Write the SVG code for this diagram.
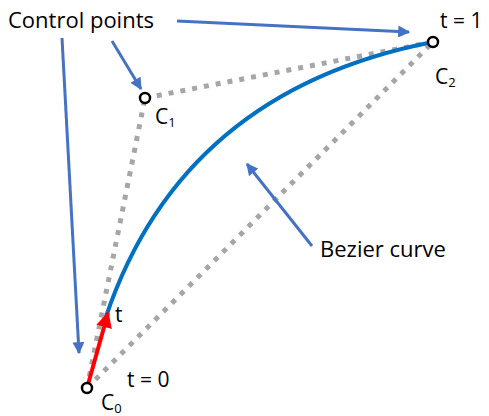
<svg xmlns="http://www.w3.org/2000/svg" width="489" height="416" viewBox="0 0 489 416">
<defs>
<marker id="ab" viewBox="0 0 10 10" refX="9" refY="5" markerWidth="4" markerHeight="4" orient="auto" markerUnits="strokeWidth"><path d="M0,0 L10,5 L0,10 z" fill="#4472C4"/></marker>
<marker id="ar" viewBox="0 0 10 10" refX="9" refY="5" markerWidth="4" markerHeight="4" orient="auto" markerUnits="strokeWidth"><path d="M0,0 L10,5 L0,10 z" fill="#FF0000"/></marker>
</defs>
<style>
.dot{stroke:#A6A6A6;stroke-width:5;stroke-dasharray:5 7;fill:none}
.curve{stroke:#0070C0;stroke-width:4;fill:none}
.ptr{stroke:#4472C4;stroke-width:3;fill:none;marker-end:url(#ab)}
.pt{fill:#fff;stroke:#000;stroke-width:2.5}
text{font-family:"Open Sans","Liberation Sans",sans-serif;fill:#000}
.lbl{font-size:22px}
.sm{font-size:21px}
.sub{font-size:13px}
</style>
<g id="control-polygon">
<line class="dot" x1="87" y1="388" x2="145" y2="98"/>
<line class="dot" x1="145" y1="98" x2="433" y2="42"/>
<line class="dot" x1="87" y1="388" x2="433" y2="42"/>
</g>
<g id="bezier">
<path class="curve" d="M106,316.6 Q182.4,90.7 433,42"/>
</g>
<g id="connectors">
<line class="ptr" x1="177" y1="21" x2="409" y2="32"/>
<line class="ptr" x1="112" y1="41" x2="141" y2="89"/>
<line class="ptr" x1="62" y1="38" x2="79" y2="353"/>
<line class="ptr" x1="312" y1="246" x2="247" y2="164"/>
<line x1="87" y1="388" x2="108" y2="313" stroke="#FF0000" stroke-width="4" marker-end="url(#ar)"/>
</g>
<g id="C0"><circle class="pt" cx="87" cy="388" r="5"/><text class="sm" x="101" y="410">C<tspan class="sub" dy="3">0</tspan></text></g>
<g id="C1"><circle class="pt" cx="145" cy="98" r="5"/><text class="sm" x="155" y="124">C<tspan class="sub" dy="3">1</tspan></text></g>
<g id="C2"><circle class="pt" cx="433" cy="42" r="5"/><text class="sm" x="435" y="84">C<tspan class="sub" dy="3">2</tspan></text></g>
<g id="labels">
<text class="lbl" x="8" y="28">Control points</text>
<text class="sm" x="440" y="28">t = 1</text>
<text class="sm" x="127" y="387">t = 0</text>
<text class="sm" x="115" y="322">t</text>
<text class="lbl" x="320" y="257">Bezier curve</text>
</g>
</svg>
